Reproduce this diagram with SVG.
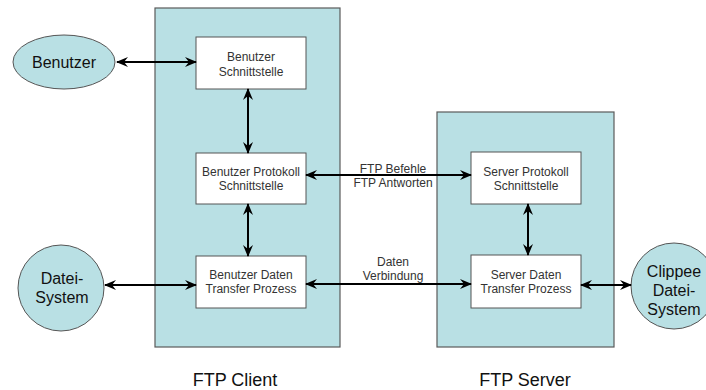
<svg xmlns="http://www.w3.org/2000/svg" width="706" height="390" viewBox="0 0 706 390">
  <defs>
    <marker id="arr" viewBox="0 0 12 10" refX="11" refY="5" markerWidth="12" markerHeight="10" markerUnits="userSpaceOnUse" orient="auto-start-reverse">
      <path d="M0,0 L12,5 L0,10 L4,5 Z" fill="#000"/>
    </marker>
  </defs>
  <style>
    .panel { fill: #b9e0e4; stroke: #5a5a5a; stroke-width: 1.2; }
    .box { fill: #fff; stroke: #555; stroke-width: 1; }
    .ext { fill: #b9e0e4; stroke: #555; stroke-width: 1; }
    .btxt { font-family: "Liberation Sans", Arial, sans-serif; font-size: 12px; fill: #333; text-anchor: middle; }
    .etxt { font-family: "Liberation Sans", Arial, sans-serif; font-size: 16px; fill: #111; text-anchor: middle; }
    .ttl { font-family: "Liberation Sans", Arial, sans-serif; font-size: 18px; fill: #111; text-anchor: middle; }
    .conn line { stroke: #000; stroke-width: 2; marker-start: url(#arr); marker-end: url(#arr); }
  </style>
  <rect width="706" height="390" fill="#fff"/>

  <!-- client and server panels -->
  <g id="ftp-client">
    <rect class="panel" x="155" y="8" width="185" height="339"/>
    <text class="ttl" x="235" y="386">FTP Client</text>
  </g>
  <g id="ftp-server">
    <rect class="panel" x="437" y="112" width="177" height="235"/>
    <text class="ttl" x="525" y="386">FTP Server</text>
  </g>

  <!-- external entities -->
  <g id="benutzer">
    <ellipse class="ext" cx="64" cy="62" rx="51" ry="27"/>
    <text class="etxt" x="64" y="68">Benutzer</text>
  </g>
  <g id="datei-system">
    <circle class="ext" cx="61" cy="288" r="43"/>
    <text class="etxt" x="62" y="284">Datei-</text>
    <text class="etxt" x="62" y="303">System</text>
  </g>
  <g id="clippee-datei-system">
    <circle class="ext" cx="674" cy="286" r="43"/>
    <text class="etxt" x="674" y="277">Clippee</text>
    <text class="etxt" x="674" y="296">Datei-</text>
    <text class="etxt" x="674" y="315">System</text>
  </g>

  <!-- client boxes -->
  <g id="benutzer-schnittstelle">
    <rect class="box" x="196" y="37" width="110" height="52"/>
    <text class="btxt" x="251" y="61">Benutzer</text>
    <text class="btxt" x="251" y="76">Schnittstelle</text>
  </g>
  <g id="benutzer-protokoll">
    <rect class="box" x="196" y="153" width="110" height="51"/>
    <text class="btxt" x="251" y="176">Benutzer Protokoll</text>
    <text class="btxt" x="251" y="190">Schnittstelle</text>
  </g>
  <g id="benutzer-daten">
    <rect class="box" x="196" y="256" width="110" height="52"/>
    <text class="btxt" x="251" y="279">Benutzer Daten</text>
    <text class="btxt" x="251" y="293">Transfer Prozess</text>
  </g>

  <!-- server boxes -->
  <g id="server-protokoll">
    <rect class="box" x="471" y="152" width="110" height="52"/>
    <text class="btxt" x="526" y="176">Server Protokoll</text>
    <text class="btxt" x="526" y="190">Schnittstelle</text>
  </g>
  <g id="server-daten">
    <rect class="box" x="471" y="255" width="110" height="53"/>
    <text class="btxt" x="526" y="279">Server Daten</text>
    <text class="btxt" x="526" y="293">Transfer Prozess</text>
  </g>

  <!-- connectors -->
  <g id="connectors" class="conn">
    <line x1="117" y1="62" x2="196" y2="62"/>
    <line x1="248" y1="89" x2="248" y2="153"/>
    <line x1="248" y1="204" x2="248" y2="256"/>
    <line x1="105" y1="285" x2="196" y2="285"/>
    <line x1="306" y1="175" x2="471" y2="175"/>
    <line x1="306" y1="284" x2="471" y2="284"/>
    <line x1="528" y1="204" x2="528" y2="255"/>
    <line x1="581" y1="285" x2="631" y2="285"/>
  </g>
  <g id="connector-labels">
    <text class="btxt" x="393" y="173">FTP Befehle</text>
    <text class="btxt" x="393" y="187">FTP Antworten</text>
    <text class="btxt" x="393" y="266">Daten</text>
    <text class="btxt" x="393" y="280">Verbindung</text>
  </g>
</svg>
